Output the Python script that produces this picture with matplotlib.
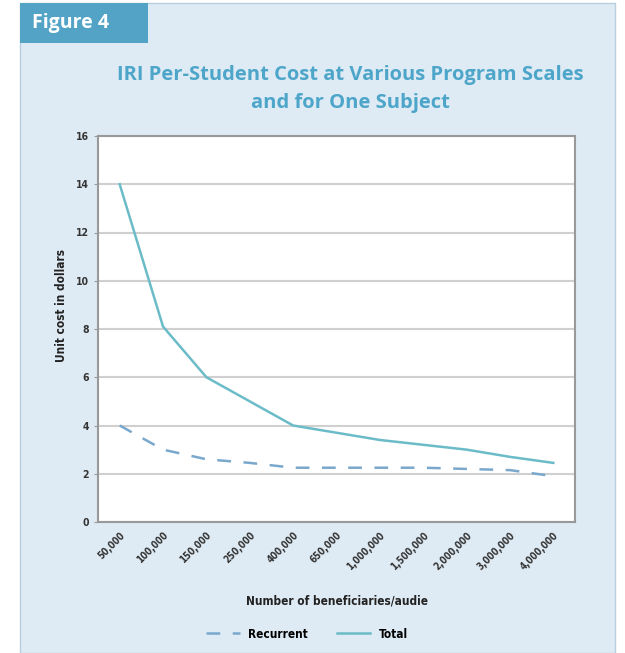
import matplotlib.pyplot as plt
import matplotlib.transforms as mtransforms
from matplotlib.patches import Rectangle
from matplotlib import font_manager

# data
scales = ["50,000", "100,000", "150,000", "250,000", "400,000", "650,000",
          "1,000,000", "1,500,000", "2,000,000", "3,000,000", "4,000,000"]
total = [14.0, 8.1, 6.0, 5.0, 4.0, 3.7, 3.4, 3.2, 3.0, 2.7, 2.45]
recurrent = [4.0, 3.0, 2.6, 2.45, 2.25, 2.25, 2.25, 2.25, 2.2, 2.15, 1.9]

bg = "#dfebf4"
title_col = "#4da6c9"
total_col = "#6bbcc8"
rec_col = "#7aa8cc"

# condensed bold face for the small chart texts, if there is one
names = sorted({f.name for f in font_manager.fontManager.ttflist})
narrow = "Liberation Sans Narrow" if "Liberation Sans Narrow" in names else "DejaVu Sans"
small = dict(family=narrow, stretch="condensed", weight="bold")

fig = plt.figure(figsize=(6.25, 6.53), dpi=100)
fig.patch.set_facecolor("white")

# light blue panel and header tab
fig.patches.append(Rectangle((20 / 625, 0.0), 595 / 625, 1 - 3 / 653,
                             transform=fig.transFigure, facecolor=bg,
                             edgecolor="#b9cfdf", linewidth=1.0, zorder=-10))
fig.patches.append(Rectangle((20 / 625, 1 - 43 / 653), 128 / 625, 40 / 653,
                             transform=fig.transFigure, facecolor="#52a3c6",
                             edgecolor="none", zorder=-9))
fig.text(32 / 625, 1 - 23 / 653, "Figure 4", color="white", fontsize=14,
         fontweight="bold", family="Open Sans", va="center", ha="left")

fig.text(350 / 625, 1 - 75 / 653, "IRI Per-Student Cost at Various Program Scales",
         color=title_col, fontsize=14.5, fontweight="bold", family="Open Sans",
         ha="center", va="center")
fig.text(350 / 625, 1 - 103 / 653, "and for One Subject",
         color=title_col, fontsize=14.5, fontweight="bold", family="Open Sans",
         ha="center", va="center")

ax = fig.add_axes([98 / 625, 1 - 522 / 653, 477 / 625, 386 / 653])
ax.set_facecolor("white")
ax.set_zorder(2)

x = range(len(scales))
ax.plot(x, recurrent, color=rec_col, linewidth=1.8, dashes=(5.5, 5), label="Recurrent")
ax.plot(x, total, color=total_col, linewidth=1.8, label="Total")

ax.set_xlim(-0.5, len(scales) - 0.5)
ax.set_ylim(0, 16)
ax.set_yticks(range(0, 17, 2))
ax.yaxis.grid(True, color="#d0d0d0", linewidth=1.5)
ax.set_axisbelow(True)
for s in ax.spines.values():
    s.set_color("#999999")
    s.set_linewidth(1.5)

ax.set_xticks(list(x))
ax.set_xticklabels(scales, rotation=45, ha="right", rotation_mode="anchor",
                   fontsize=7, color="#333333", **small)
offset = mtransforms.ScaledTranslation(12 / 100, 0, fig.dpi_scale_trans)
for lbl in ax.get_xticklabels():
    lbl.set_transform(lbl.get_transform() + offset)
ax.tick_params(axis="x", length=0, pad=6)
ax.tick_params(axis="y", length=3, color="#999999", labelsize=7.5,
               labelcolor="#333333")
for lbl in ax.get_yticklabels():
    lbl.set_fontweight("bold")
    lbl.set_family(narrow)
    lbl.set_fontstretch("condensed")

ax.set_ylabel("Unit cost in dollars", fontsize=8.5, color="#222222",
              labelpad=2, **small)
ax.yaxis.set_label_coords(-30 / 477, 0.56)
fig.text(337 / 625, 1 - 601 / 653, "Number of beneficiaries/audie", fontsize=8.5,
         color="#222222", ha="center", va="center", **small)

leg = fig.legend(loc="center", bbox_to_anchor=(307 / 625, 1 - 634 / 653), ncol=2,
                 frameon=False, handlelength=2.8, columnspacing=2.5, handletextpad=0.7,
                 prop={"family": narrow, "stretch": "condensed", "weight": "bold",
                       "size": 8.5})

fig.savefig("out.png", dpi=100, facecolor=fig.get_facecolor())
